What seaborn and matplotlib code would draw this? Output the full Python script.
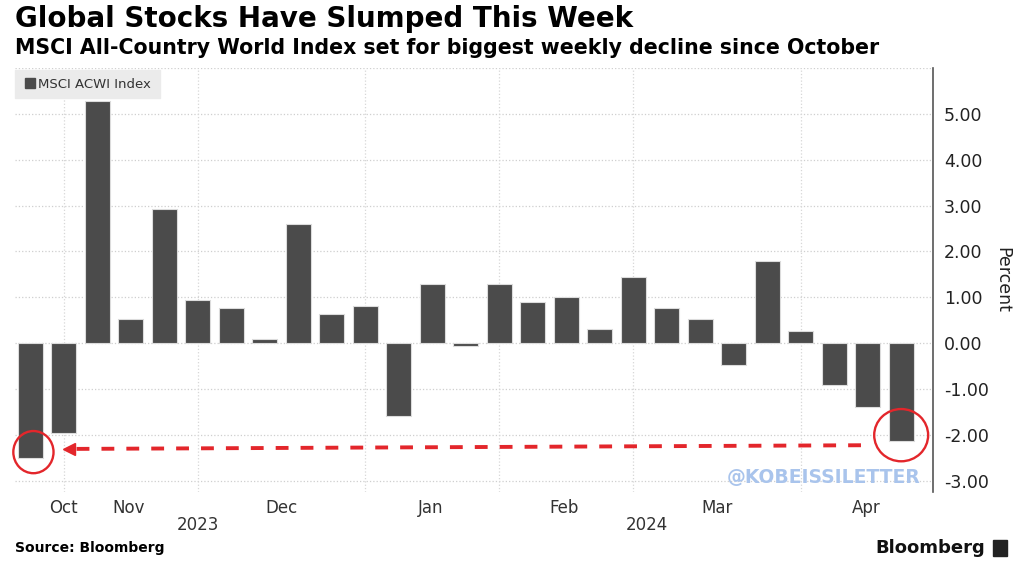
import numpy as np
import pandas as pd
import seaborn as sns
import matplotlib.pyplot as plt
from matplotlib.patches import Ellipse, Rectangle

# weekly % change of the MSCI ACWI index (week ending Fridays)
weeks = pd.date_range("2023-10-20", periods=27, freq="W-FRI").strftime("%Y-%m-%d").tolist()
returns = [-2.50, -1.97, 5.29, 0.52, 2.92, 0.94, 0.77, 0.09, 2.59, 0.64,
           0.81, -1.60, 1.29, -0.06, 1.29, 0.90, 1.00, 0.30, 1.44, 0.76,
           0.53, -0.47, 1.78, 0.27, -0.91, -1.40, -2.13]

month_labels = ["Oct", "Nov", "Dec", "Jan", "Feb", "Mar", "Apr"]
month_pos = [1, 2.95, 7.5, 11.95, 15.95, 20.5, 24.95]
month_bounds = [1, 5, 10, 14, 18, 23]
year_labels = ["2023", "2024"]
year_pos = [5.0, 18.4]
y_ticks = [-3, -2, -1, 0, 1, 2, 3, 4, 5, 6]

RED = "#e3262b"
BAR = "#4b4b4b"

sns.set_style("white")
plt.rcParams["font.family"] = ["DejaVu Sans"]

fig = plt.figure(figsize=(10.24, 5.71), dpi=100)
ax = fig.add_axes([15 / 1024, 1 - 492 / 571, 918 / 1024, 424 / 571])

df = pd.DataFrame({"week": weeks, "pct": returns})
sns.barplot(data=df, x="week", y="pct", color=BAR, saturation=1, width=0.75,
            edgecolor="#dcdcdc", linewidth=0.8, ax=ax, zorder=3)

ax.set_xlim(-0.45, 26.95)
ax.set_ylim(-3.25, 6.0)

# dotted grid
for y in y_ticks:
    ax.axhline(y, color="#cfcfcf", ls=":", lw=0.9, zorder=0)
for x in month_bounds:
    ax.axvline(x, color="#d7d7d7", ls=":", lw=0.9, zorder=0)

# y axis on the right
ax.yaxis.tick_right()
ax.yaxis.set_label_position("right")
ax.set_yticks(y_ticks)
ax.set_yticklabels([f"{v:.2f}" if v < 6 else "" for v in y_ticks])
ax.set_yticks(np.arange(-2.5, 6, 1.0), minor=True)
ax.tick_params(axis="y", which="major", right=True, left=False, direction="out",
               length=5, width=1, color="#555555", labelsize=12.5, labelcolor="#222222", pad=3)
ax.tick_params(axis="y", which="minor", right=True, left=False, direction="in",
               length=3, width=1, color="#555555")
ax.set_ylabel("Percent", rotation=270, fontsize=12.5, color="#222222", labelpad=16)

ax.set_xticks(month_pos)
ax.set_xticklabels(month_labels)
ax.tick_params(axis="x", length=0, labelsize=12, labelcolor="#333333", pad=5)
ax.set_xlabel("")
for lab, xp in zip(year_labels, year_pos):
    ax.text(xp, -0.078, lab, transform=ax.get_xaxis_transform(), ha="center", va="center",
            fontsize=12, color="#333333")

sns.despine(ax=ax, left=True, bottom=True, top=True, right=False)
ax.spines["right"].set_color("#555555")
ax.spines["right"].set_linewidth(1.2)

# annotations: circles and dashed arrow
ax.add_patch(Ellipse((0.1, -2.38), 1.2, 0.92, fill=False, edgecolor=RED, lw=1.7,
                     clip_on=False, zorder=5))
ax.add_patch(Ellipse((26.0, -2.01), 1.61, 1.14, fill=False, edgecolor=RED, lw=1.7,
                     clip_on=False, zorder=5))
ax.plot([24.8, 1.3], [-2.23, -2.31], color=RED, lw=2.8, ls=(0, (3.3, 3.1)), zorder=5)
ax.plot([1.15], [-2.315], marker="<", ms=9, color=RED, mec=RED, zorder=5)

# legend box
fig.patches.append(Rectangle((15 / 1024, 1 - 98 / 571), 145 / 1024, 28 / 571,
                             transform=fig.transFigure, color="#ebebeb", zorder=0))
fig.patches.append(Rectangle((25 / 1024, 1 - 88 / 571), 10 / 1024, 10 / 571,
                             transform=fig.transFigure, color=BAR, zorder=1))
fig.text(38 / 1024, 1 - 84 / 571, "MSCI ACWI Index", fontsize=9.5, color="#333333",
         va="center", ha="left")

# titles and footer
fig.text(15 / 1024, 1 - 19 / 571, "Global Stocks Have Slumped This Week",
         fontsize=20, weight="bold", va="center", ha="left", color="#000000")
fig.text(15 / 1024, 1 - 48 / 571,
         "MSCI All-Country World Index set for biggest weekly decline since October",
         fontsize=14.8, weight="bold", va="center", ha="left", color="#000000")
fig.text(15 / 1024, 1 - 548 / 571, "Source: Bloomberg", fontsize=10, weight="bold",
         va="center", ha="left", color="#000000")
fig.text(985 / 1024, 1 - 548 / 571, "Bloomberg", fontsize=13, weight="bold",
         va="center", ha="right", color="#111111")
fig.patches.append(Rectangle((993 / 1024, 1 - 556 / 571), 14 / 1024, 16 / 571,
                             transform=fig.transFigure, color="#222222", zorder=1))
fig.text(920 / 1024, 1 - 478 / 571, "@KOBEISSILETTER", fontsize=13.5, weight="bold",
         color="#a9c4ec", va="center", ha="right")

fig.savefig("out.png", dpi=100)
